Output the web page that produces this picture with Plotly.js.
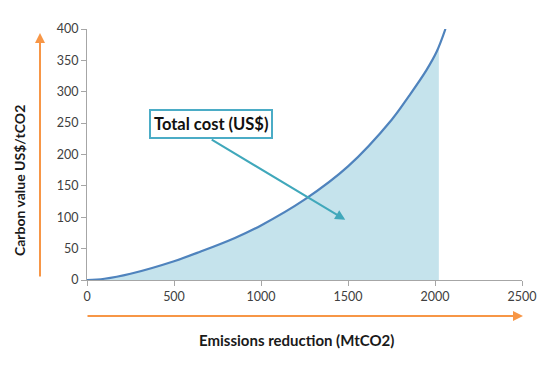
<!DOCTYPE html>
<html>
<head>
<meta charset="utf-8">
<script src="https://cdn.plot.ly/plotly-3.0.1.min.js"></script>
<style>html,body{margin:0;padding:0;background:#fff;}#chart{width:546px;height:366px;}</style>
</head>
<body>
<div id="chart"></div>
<script>
// Data
var emissions   = [0, 100, 250, 500, 650, 850, 1000, 1250, 1500, 1750, 1850, 1950, 2010, 2060];
var carbonValue = [0, 2, 10, 30, 45, 67, 87, 128, 181, 255, 293, 334, 364, 400];
var fillEndX = 2022;
var fillEndY = 371;
var xTicks = [0, 500, 1000, 1500, 2000, 2500];
var yTicks = [0, 50, 100, 150, 200, 250, 300, 350, 400];
var boxLabel = "Total cost (US$)";
var xTitle = "Emissions reduction (MtCO2)";
var yTitle = "Carbon value US$/tCO2";

var fillX = [], fillY = [];
for (var i = 0; i < emissions.length; i++) {
  if (emissions[i] <= fillEndX) { fillX.push(emissions[i]); fillY.push(carbonValue[i]); }
}
fillX.push(fillEndX); fillY.push(fillEndY);

var font = "Lato, 'Open Sans', sans-serif";

var traces = [
  {x: fillX, y: fillY, type: 'scatter', mode: 'lines', fill: 'tozeroy',
   fillcolor: '#c5e3ec', line: {width: 0, shape: 'spline'}, hoverinfo: 'skip', showlegend: false},
  {x: emissions, y: carbonValue, type: 'scatter', mode: 'lines',
   line: {color: '#4f83bd', width: 2.2, shape: 'spline'}, showlegend: false}
];

var W = 546, H = 366, L = 87, R = 24, T = 29, B = 86;
var pw = W - L - R, ph = H - T - B;
function px2x(p){ return (p - L) / pw; }
function py2y(p){ return (H - B - p) / ph; }

var layout = {
  width: W, height: H,
  margin: {l: L, r: R, t: T, b: B},
  paper_bgcolor: '#fff', plot_bgcolor: '#fff',
  font: {family: font, size: 12.5, color: '#404040'},
  xaxis: {range: [0, 2500], tickvals: xTicks, ticktext: xTicks.map(String),
          showgrid: false, zeroline: false, showline: true, linecolor: '#a6a6a6', linewidth: 1,
          ticks: 'outside', ticklen: 5, tickcolor: '#a6a6a6',
          tickfont: {family: font, size: 12.5, color: '#404040'}},
  yaxis: {range: [0, 400], tickvals: yTicks, ticktext: yTicks.map(String),
          showgrid: false, zeroline: false, showline: true, linecolor: '#a6a6a6', linewidth: 1,
          ticks: 'outside', ticklen: 5, tickcolor: '#a6a6a6',
          tickfont: {family: font, size: 12.5, color: '#404040'}},
  annotations: [
    {xref: 'paper', yref: 'paper', x: px2x(19), y: py2y(181), showarrow: false, textangle: -90,
     text: '<b>' + yTitle + '</b>', font: {family: font, size: 14, color: '#1a1a1a'},
     xanchor: 'center', yanchor: 'middle'},
    {xref: 'paper', yref: 'paper', x: px2x(296), y: py2y(340), showarrow: false,
     text: '<b>' + xTitle + '</b>', font: {family: font, size: 15, color: '#1a1a1a'},
     xanchor: 'center', yanchor: 'middle'},
    {xref: 'paper', yref: 'paper', x: px2x(40), y: py2y(33), ax: 0, ay: 245,
     text: '', showarrow: true, arrowhead: 2, arrowsize: 1, arrowwidth: 2, arrowcolor: '#f79646'},
    {xref: 'paper', yref: 'paper', x: px2x(523), y: py2y(316), ax: -437, ay: 0,
     text: '', showarrow: true, arrowhead: 2, arrowsize: 1, arrowwidth: 2, arrowcolor: '#f79646'},
    {xref: 'x', yref: 'y', x: 1484, y: 96, ax: -135, ay: -81,
     text: '', showarrow: true, arrowhead: 2, arrowsize: 1, arrowwidth: 2, arrowcolor: '#40a8bb'},
    {xref: 'paper', yref: 'paper', x: px2x(211), y: py2y(124), showarrow: false,
     text: '<b>' + boxLabel + '</b>', font: {family: font, size: 16.5, color: '#111'},
     bgcolor: '#fff', bordercolor: '#4bacc6', borderwidth: 2, borderpad: 3, xanchor: 'center', yanchor: 'middle'}
  ]
};

Plotly.newPlot('chart', traces, layout, {displayModeBar: false, staticPlot: true});
</script>
</body>
</html>
